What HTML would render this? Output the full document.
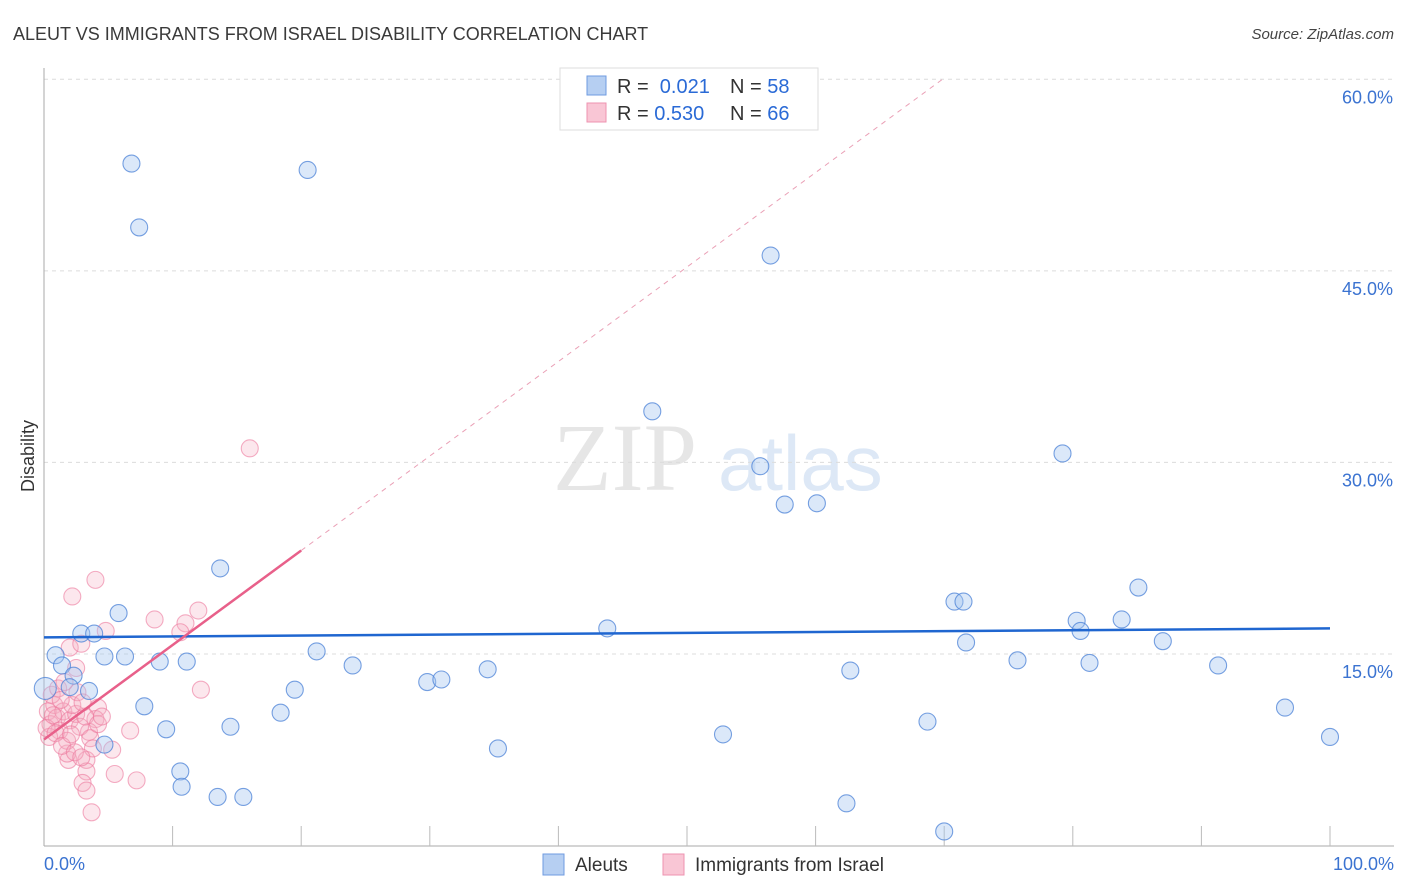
<!DOCTYPE html>
<html><head><meta charset="utf-8">
<style>
body{margin:0;background:#fff;font-family:"Liberation Sans",sans-serif;}
#wrap{position:relative;width:1406px;height:892px;overflow:hidden;}
</style></head>
<body>
<div id="wrap">
<svg id="svg" width="1406" height="892" xmlns="http://www.w3.org/2000/svg"></svg>
</div>
<script>
const blueX=[6.8,7.4,20.5,56.5,47.3,55.7,57.6,60.1,79.2,13.7,5.8,85.1,70.8,71.5,2.9,3.9,43.8,80.3,83.8,80.6,71.7,87.0,0.9,4.7,6.3,21.2,1.4,9.0,11.1,24.0,75.7,81.3,91.3,2.3,62.7,34.5,29.8,30.9,2.0,3.5,19.5,0.1,7.8,18.4,96.5,68.7,9.5,14.5,4.7,35.3,52.8,100,10.6,10.7,13.5,15.5,62.4,70.0];
const blueY=[53.4,48.4,52.9,46.2,34.0,29.7,26.7,26.8,30.7,21.7,18.2,20.2,19.1,19.1,16.6,16.6,17.0,17.6,17.7,16.8,15.9,16.0,14.9,14.8,14.8,15.2,14.1,14.4,14.4,14.1,14.5,14.3,14.1,13.3,13.7,13.8,12.8,13.0,12.4,12.1,12.2,12.3,10.9,10.4,10.8,9.7,9.1,9.3,7.9,7.6,8.7,8.5,5.8,4.6,3.8,3.8,3.3,1.1];
const pinkX=[4.0,2.2,16.0,8.6,12.0,11.0,10.6,4.8,2.0,2.9,2.5,12.2,4.2,4.0,3.5,6.7,5.3,3.3,3.3,5.5,7.2,3.0,3.3,3.7,1.9,1.8,0.3,0.5,0.8,1.0,1.2,0.4,1.5,2.0,2.5,1.8,0.6,1.1,2.2,2.8,3.2,0.2,0.9,1.4,2.4,3.6,4.2,2.6,1.6,0.7,1.3,2.1,3.0,4.5,3.8,2.9];
const pinkY=[20.8,19.5,31.1,17.7,18.4,17.4,16.7,16.8,15.5,15.8,13.9,12.2,10.8,9.9,8.9,9.0,7.5,6.7,5.8,5.6,5.1,4.9,4.3,2.6,6.7,7.2,10.5,9.5,11.0,10.0,9.0,8.5,10.5,9.8,10.3,8.2,11.8,12.3,11.0,9.3,10.1,9.2,8.8,7.8,7.3,8.4,9.5,12.0,12.8,10.2,11.4,8.7,11.2,10.1,7.6,6.9];
const yTicks=[15,30,45,60];
const blueTrend=[16.3,17.0];
const pinkTrend=[8.3,0.74];

const NS="http://www.w3.org/2000/svg";
const svg=document.getElementById('svg');
const X=v=>44+v*12.86;
const Y=v=>845.5-v*12.77;
function el(tag,attrs,parent){const e=document.createElementNS(NS,tag);for(const k in attrs)e.setAttribute(k,attrs[k]);(parent||svg).appendChild(e);return e;}
function txt(s,attrs){const t=el('text',attrs);t.textContent=s;return t;}

let t=txt('ALEUT VS IMMIGRANTS FROM ISRAEL DISABILITY CORRELATION CHART',{x:13,y:40,'font-size':18,fill:'#3a3a3a'});


t=txt('Source: ZipAtlas.com',{x:1394,y:39,'font-size':15,fill:'#444','text-anchor':'end','font-style':'italic'});



t=txt('ZIP',{x:553,y:490,'font-size':96,fill:'#e6e6e6','font-family':'Liberation Serif, serif'});


t=txt('atlas',{x:718,y:490,'font-size':78,fill:'#dde8f6'});



yTicks.forEach(v=>{
  const g=el('line',{x1:44,x2:1394,y1:Y(v),y2:Y(v),stroke:'#dcdcdc','stroke-dasharray':'4,4'});
  
  
  const l=txt(v.toFixed(1)+'%',{x:1393,y:Y(v)+24,'font-size':18,fill:'#3b73d1','text-anchor':'end'});
  
  
});
let a=el('line',{x1:44,x2:44,y1:68,y2:846,stroke:'#aaa'});


a=el('line',{x1:44,x2:1394,y1:846,y2:846,stroke:'#aaa'});


for(let i=1;i<=10;i++){const k=el('line',{x1:X(i*10),x2:X(i*10),y1:826,y2:846,stroke:'#bbb'});

}
t=txt('0.0%',{x:44,y:870,'font-size':18,fill:'#3b73d1'});


t=txt('100.0%',{x:1394,y:870,'font-size':18,fill:'#3b73d1','text-anchor':'end'});


t=txt('Disability',{x:34,y:456,'font-size':18,fill:'#333','text-anchor':'middle',transform:'rotate(-90 34 456)'});



pinkX.forEach((v,i)=>{const c=el('circle',{cx:X(v),cy:Y(pinkY[i]),r:8.5,fill:'rgba(246,175,196,0.3)',stroke:'rgba(236,120,156,0.6)','stroke-width':1.1});

});
blueX.forEach((v,i)=>{const c=el('circle',{cx:X(v),cy:Y(blueY[i]),r:i==41?11:8.5,fill:'rgba(165,198,240,0.4)',stroke:'rgba(75,130,215,0.75)','stroke-width':1.1});

});

let ln=el('line',{x1:X(0),y1:Y(blueTrend[0]),x2:X(100),y2:Y(blueTrend[1]),stroke:'#1f66d0','stroke-width':2.5});


ln=el('line',{x1:X(0),y1:Y(pinkTrend[0]),x2:X(20),y2:Y(pinkTrend[0]+pinkTrend[1]*20),stroke:'#e8608a','stroke-width':2.5});


const xe=(60-pinkTrend[0])/pinkTrend[1];
ln=el('line',{x1:X(20),y1:Y(pinkTrend[0]+pinkTrend[1]*20),x2:X(xe),y2:Y(60),stroke:'#eaa0b6','stroke-width':1,'stroke-dasharray':'5,5'});



let r=el('rect',{x:560,y:68,width:258,height:62,fill:'#fff',stroke:'#ddd'});


r=el('rect',{x:587,y:76,width:19,height:19,fill:'#b6cff2',stroke:'#6f9be0'});


r=el('rect',{x:587,y:103,width:19,height:19,fill:'#f9c6d5',stroke:'#ee93b0'});


function stat(y,rv,nv,name){
  const s=el('text',{x:617,y:y,'font-size':20,fill:'#333'});
  s.innerHTML='R = <tspan fill="#2a6ad6">'+rv+'</tspan><tspan x="730">N = </tspan><tspan fill="#2a6ad6">'+nv+'</tspan>';
  
  
}
stat(93,'&#160;0.021','58','stats-aleut');
stat(120,'0.530','66','stats-israel');

r=el('rect',{x:543,y:854,width:21,height:21,fill:'#b6cff2',stroke:'#6f9be0'});


t=txt('Aleuts',{x:575,y:871,'font-size':19,fill:'#333'});


r=el('rect',{x:663,y:854,width:21,height:21,fill:'#f9c6d5',stroke:'#ee93b0'});


t=txt('Immigrants from Israel',{x:695,y:871,'font-size':19,fill:'#333'});


</script>
</body></html>
